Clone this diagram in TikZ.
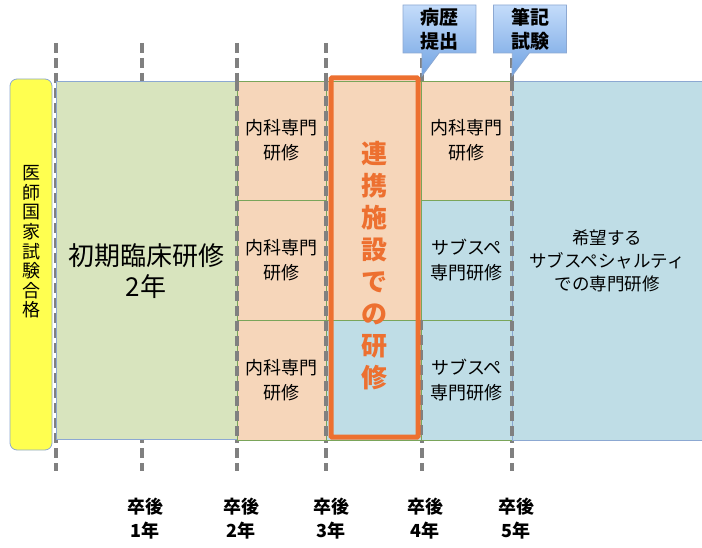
\documentclass[tikz,border=0pt]{standalone}
\usepackage{fontspec}
\setmainfont{Noto Sans CJK JP}
\usetikzlibrary{shapes.callouts,positioning}
\colorlet{background}{white}
\colorlet{gridColor}{black!50}
\definecolor{passColor}{RGB}{255,255,80}
\definecolor{initColor}{RGB}{216,228,190}
\definecolor{peachColor}{RGB}{246,214,186}
\definecolor{skyColor}{RGB}{191,221,230}
\definecolor{linkColor}{RGB}{237,112,48}
\definecolor{calloutTop}{RGB}{196,220,250}
\definecolor{calloutBottom}{RGB}{112,162,226}
\definecolor{edgeGreen}{RGB}{122,165,90}
\definecolor{edgeBlue}{RGB}{140,168,210}
\tikzset{
  gridline/.style={gridColor, line width=3.5pt, dash pattern=on 10pt off 5pt},
  block/.style={draw, rectangle, anchor=north west, inner sep=0pt, outer sep=0pt,
    align=center, font=\fontsize{18}{25}\selectfont},
  naika/.style={block, fill=peachColor, draw=edgeGreen, line width=0.7pt},
  subspe/.style={block, fill=skyColor, draw=edgeGreen, line width=0.7pt},
  note/.style={rectangle callout, draw=edgeBlue, line width=0.8pt, top color=calloutTop,
    bottom color=calloutBottom, minimum width=73pt, minimum height=48pt, inner sep=0pt,
    callout pointer width=17pt, align=center, font=\fontsize{19}{24}\bfseries\selectfont},
  year/.style={align=center, font=\fontsize{18}{24}\bfseries\selectfont}
}
\begin{document}
\begin{tikzpicture}[x=1pt,y=-1pt]
\useasboundingbox (0,0) rectangle (702,548);
% year lines
\foreach \i/\x in {0/56,1/142,2/237,3/326,4/422,5/512}{
  \coordinate (t\i) at (\x,43);
  \coordinate (b\i) at (\x,471);
  \draw[gridline] (t\i) -- (b\i);
}
% boxes
\node[block, fill=passColor, draw=edgeBlue, rounded corners=7pt, line width=0.8pt,
  minimum width=42pt, minimum height=371pt] (pass) at (10,79) {};
\node[align=center, font=\fontsize{18}{19.6}\selectfont] (passText) at (31,242)
  {医\\師\\国\\家\\試\\験\\合\\格};
\node[block, fill=initColor, draw=edgeBlue, line width=0.8pt,
  minimum width=181pt, minimum height=358pt] (init) at (56,81) {};
\node[align=center, font=\fontsize{26}{31}\selectfont] (initText) at (146,271)
  {初期臨床研修\\2年};
\node[naika, minimum width=89pt, minimum height=119pt] (naikaA) at (237,81) {内科専門\\研修};
\node[naika, minimum width=89pt, minimum height=120pt] (naikaB) at (237,200) {内科専門\\研修};
\node[naika, minimum width=89pt, minimum height=120pt] (naikaC) at (237,320) {内科専門\\研修};
\node[naika, minimum width=95pt, minimum height=239pt] (linkTop) at (326,81) {};
\node[subspe, minimum width=95pt, minimum height=120pt] (linkBottom) at (326,320) {};
\node[naika, minimum width=91pt, minimum height=119pt] (naikaD) at (421,81) {内科専門\\研修};
\node[subspe, minimum width=91pt, minimum height=120pt] (subA) at (421,200) {サブスペ\\専門研修};
\node[subspe, minimum width=91pt, minimum height=120pt] (subB) at (421,320) {サブスペ\\専門研修};
\node[block, fill=skyColor, draw=edgeBlue, line width=0.8pt, minimum width=190pt,
  minimum height=359pt, font=\fontsize{17.5}{23}\selectfont] (wish) at (512,81)
  {希望する\\サブスペシャルティ\\での専門研修};
% year lines over the boxes
\draw[gridline] ([yshift=-38pt]t2) -- (naikaC.south west);
\draw[gridline] ([yshift=-38pt]t3) -- (naikaC.south east);
\draw[gridline] ([yshift=-38pt]t5) -- (subB.south east);
\draw[gridline] (subB.north west) -- (subB.south west);
% link frame
\draw[linkColor, line width=5pt, rounded corners=1pt] (331,78) rectangle (418,437);
\node[align=center, text=linkColor, font=\fontsize{26}{32}\bfseries\selectfont] (linkText)
  at (374,266) {連\\携\\施\\設\\で\\の\\研\\修};
% callouts
\coordinate (histTip) at (422,76);
\coordinate (examTip) at (512,76);
\node[note, callout absolute pointer={(histTip)}] (hist) at (439.5,29) {病歴\\提出};
\node[note, callout absolute pointer={(examTip)}] (exam) at (530,29) {筆記\\試験};
% years after graduation
\node[year] (y1) at (145,519) {卒後\\1年};
\node[year] (y2) at (241,519) {卒後\\2年};
\node[year] (y3) at (331,519) {卒後\\3年};
\node[year] (y4) at (425,519) {卒後\\4年};
\node[year] (y5) at (516,519) {卒後\\5年};
\end{tikzpicture}
\end{document}
